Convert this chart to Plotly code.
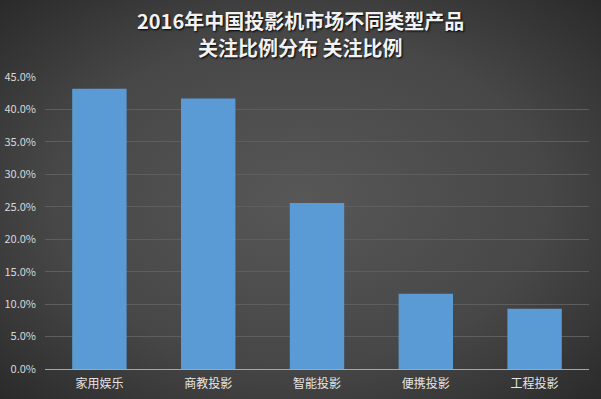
import base64
import plotly.graph_objects as go

categories = ["家用娱乐", "商教投影", "智能投影", "便携投影", "工程投影"]
values = [43.2, 41.7, 25.6, 11.6, 9.3]
tick_vals = [0, 5, 10, 15, 20, 25, 30, 35, 40, 45]
tick_text = [f"{v:.1f}%" for v in tick_vals]
title_lines = ["2016年中国投影机市场不同类型产品", "关注比例分布 关注比例"]

W, H = 601, 399
ml, mr, mt, mb = 45, 12, 77, 30
pw, ph = W - ml - mr, H - mt - mb

svg = f'''<svg xmlns="http://www.w3.org/2000/svg" width="{W}" height="{H}" viewBox="0 0 {W} {H}" preserveAspectRatio="none">
<defs><radialGradient id="g" cx="50%" cy="50%" r="75%">
<stop offset="0%" stop-color="#575757"/>
<stop offset="55%" stop-color="#474747"/>
<stop offset="100%" stop-color="#262626"/>
</radialGradient></defs>
<rect width="{W}" height="{H}" fill="url(#g)"/></svg>'''
bg_src = "data:image/svg+xml;base64," + base64.b64encode(svg.encode()).decode()

fig = go.Figure()
fig.add_trace(go.Bar(
    x=categories, y=values,
    marker=dict(color="#5b9bd5", line=dict(width=0)),
    hoverinfo="x+y",
))

title_font = dict(family="Noto Sans CJK SC", size=20, color="#f2f2f2",
                  weight="bold", shadow="1px 1px 2px #000")
annotations = []
for line, ypix in zip(title_lines, [20, 47]):
    annotations.append(dict(
        text=line, showarrow=False, xref="paper", yref="paper",
        x=(W / 2 - ml) / pw, y=1 + (mt - ypix) / ph,
        xanchor="center", yanchor="middle", font=title_font,
    ))

fig.update_layout(
    width=W, height=H,
    margin=dict(l=ml, r=mr, t=mt, b=mb, autoexpand=False),
    paper_bgcolor="#3a3a3a",
    plot_bgcolor="rgba(0,0,0,0)",
    bargap=0.5,
    showlegend=False,
    font=dict(family="Noto Sans CJK SC", color="#d9d9d9"),
    annotations=annotations,
    images=[dict(
        source=bg_src, xref="paper", yref="paper",
        x=-ml / pw, y=1 + mt / ph, sizex=W / pw, sizey=H / ph,
        xanchor="left", yanchor="top", sizing="stretch", layer="below",
    )],
    xaxis=dict(
        showgrid=False, showline=True, linecolor="#a6a6a6", linewidth=1,
        ticks="", tickfont=dict(size=12, color="#e6e6e6"),
        ticklabelstandoff=4,
        fixedrange=True, automargin=False,
    ),
    yaxis=dict(
        range=[0, 45], tickvals=tick_vals, ticktext=tick_text,
        showgrid=True, gridcolor="#5e5e5e", gridwidth=1,
        zeroline=False, showline=False, ticks="",
        tickfont=dict(size=11, color="#d9d9d9"),
        ticklabelstandoff=8,
        fixedrange=True, automargin=False,
    ),
)

fig.write_html(
    "out.html",
    config={"displayModeBar": False},
    post_script="document.body.style.margin='0';document.body.style.overflow='hidden';",
)
